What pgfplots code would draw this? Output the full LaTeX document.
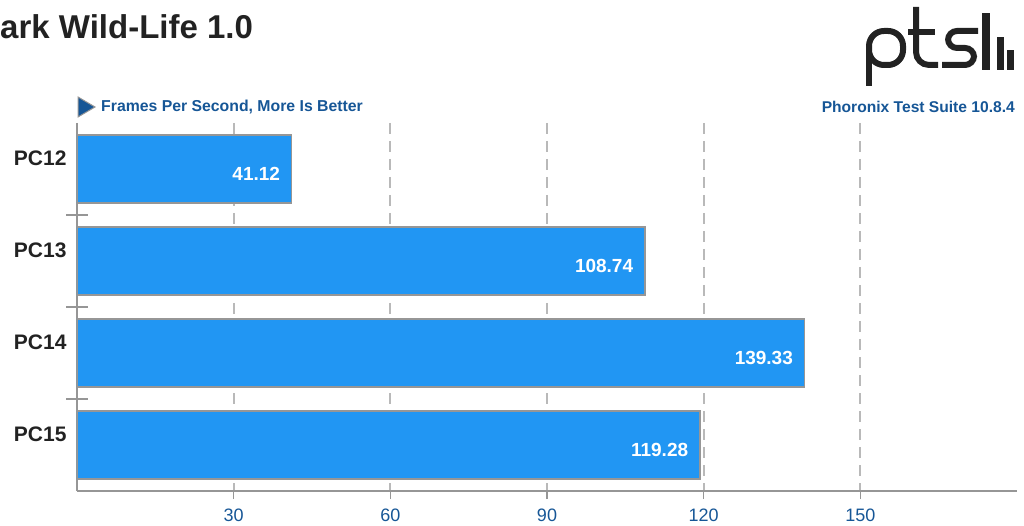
\documentclass[border=0pt]{standalone}
\usepackage{pgfplots}
\pgfplotsset{compat=1.18}
\usepackage{fontspec}
\setmainfont{Liberation Sans}
\definecolor{barblue}{RGB}{33,150,243}
\definecolor{ptsblue}{RGB}{22,86,150}
\definecolor{gridgray}{RGB}{185,185,185}
\definecolor{axgray}{RGB}{150,150,150}
\definecolor{titlec}{RGB}{34,34,34}
\begin{document}
\begin{tikzpicture}
\useasboundingbox (0pt,0pt) rectangle (1024pt,526pt);
% title (cut at the left edge, as in the reference)
\node[anchor=west, inner sep=0pt, font=\fontsize{33}{33}\selectfont\bfseries, text=titlec] at (0pt,499pt) {ark Wild-Life 1.0};
% subtitle
\fill[ptsblue, draw=axgray, line width=1pt] (78pt,429pt) -- (78pt,409pt) -- (95pt,419pt) -- cycle;
\node[anchor=west, inner sep=0pt, font=\fontsize{15.8}{15.8}\selectfont\bfseries, text=ptsblue] at (101pt,419pt) {Frames Per Second, More Is Better};
\node[anchor=east, inner sep=0pt, font=\fontsize{15.6}{15.6}\selectfont\bfseries, text=ptsblue] at (1015pt,419pt) {Phoronix Test Suite 10.8.4};
% logo
\begin{scope}[shift={(0pt,526pt)}, x=1pt, y=-1pt]
\draw[line width=6pt, rounded corners=15pt, titlec] (869,65) -- (869,31) -- (903,31) -- (903,65) -- cycle;
\draw[line width=6pt, titlec] (869,48) -- (869,86);
\draw[line width=6pt, rounded corners=13pt, titlec] (916,7) -- (916,65) -- (938,65);
\draw[line width=6pt, titlec] (908,32) -- (935,32);
\draw[line width=6pt, rounded corners=9pt, titlec] (978,31) -- (948,31) -- (948,48) -- (974,48) -- (974,65) -- (942,65);
\fill[titlec] (982,13) rectangle (990,70);
\fill[titlec] (997,37) rectangle (1004,70);
\fill[titlec] (1007,50) rectangle (1014,70);
\end{scope}
\begin{axis}[
  at={(77pt,35pt)}, anchor=south west,
  scale only axis, width=940pt, height=368pt,
  xbar, bar width=68pt,
  xmin=0, xmax=180,
  ymin=-0.5, ymax=3.5, y dir=reverse,
  ytick={0,1,2,3}, yticklabels={PC12,PC13,PC14,PC15},
  xtick={30,60,90,120,150},
  axis x line*=bottom, axis y line*=left,
  axis line style={draw=axgray, line width=1.5pt},
  y tick style={draw=none},
  x tick style={draw=axgray, line width=1.5pt},
  major tick length=8pt, tick align=outside,
  extra y ticks={0.5,1.5,2.5}, extra y tick labels={},
  extra y tick style={grid=none, major tick length=22pt, tick align=center, y tick style={draw=axgray, line width=1.5pt}},
  xmajorgrids, grid style={draw=gridgray, line width=1.8pt, dash pattern=on 11pt off 7pt},
  yticklabel style={font=\fontsize{21}{21}\selectfont\bfseries, text=titlec, xshift=1pt, yshift=11pt},
  xticklabel style={font=\fontsize{18}{18}\selectfont, text=ptsblue, yshift=-6pt},
  /pgf/number format/assume math mode=true,
  nodes near coords={\pgfmathprintnumber[fixed,precision=2,fixed zerofill]{\pgfplotspointmeta}},
  nodes near coords style={anchor=east, inner sep=0pt, xshift=-11pt, yshift=-5pt, text=white, font=\fontsize{19}{19}\selectfont\bfseries, /pgf/number format/assume math mode=true},
]
\addplot[fill=barblue, draw=axgray, line width=1.5pt] coordinates {(41.12,0) (108.74,1) (139.33,2) (119.28,3)};
\end{axis}
\end{tikzpicture}
\end{document}
